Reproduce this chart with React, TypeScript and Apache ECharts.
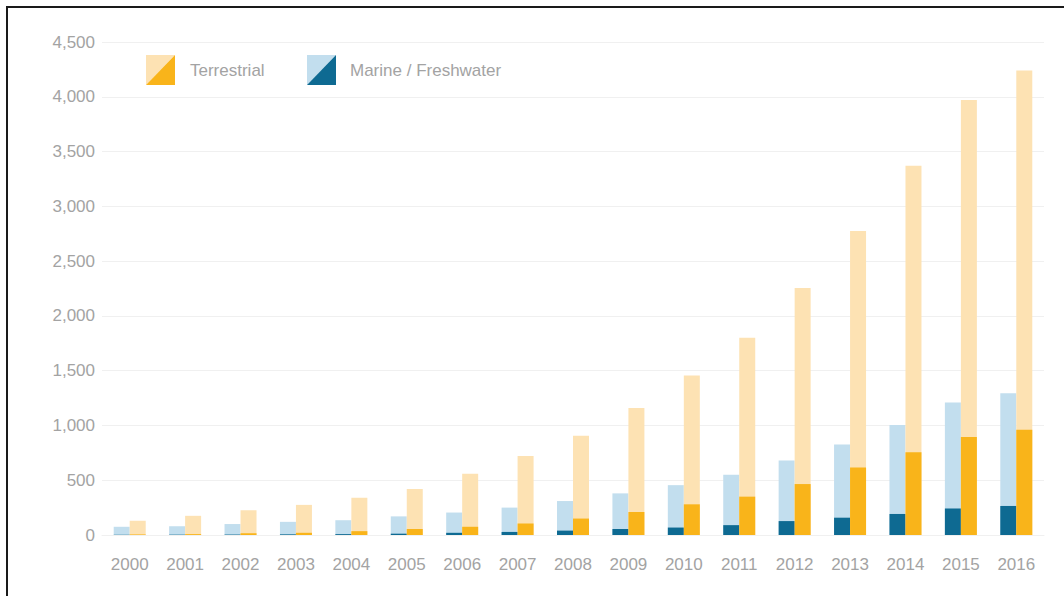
import React, { useEffect, useRef } from "react";
import * as echarts from "echarts";

const years = ["2000","2001","2002","2003","2004","2005","2006","2007","2008","2009","2010","2011","2012","2013","2014","2015","2016"];
const marineTotal = [75, 80, 100, 120, 135, 170, 205, 250, 310, 380, 455, 550, 680, 825, 1005, 1210, 1295];
const terrestrialTotal = [130, 175, 225, 275, 340, 420, 560, 720, 905, 1160, 1455, 1800, 2255, 2775, 3370, 3970, 4240];
const marinePart = [2, 3, 4, 6, 8, 12, 20, 28, 40, 55, 68, 90, 127, 158, 192, 242, 265];
const terrestrialPart = [5, 8, 15, 20, 35, 55, 75, 105, 150, 210, 280, 350, 465, 615, 755, 895, 960];
const yTicks = [0, 500, 1000, 1500, 2000, 2500, 3000, 3500, 4000, 4500];

const C = {
  lightOrange: "#fde2b3",
  orange: "#f9b41a",
  lightBlue: "#c2deee",
  darkBlue: "#0e6a92",
  text: "#a3a3a3",
  grid: "#f0f0f0",
};
const FONT = "Liberation Sans, Arial, sans-serif";

export default function App() {
  const ref = useRef<HTMLDivElement>(null);
  useEffect(() => {
    if (!ref.current) return;
    const chart = echarts.init(ref.current, undefined, { renderer: "svg" });
    const icon = (x: number, light: string, dark: string) => ({
      type: "group",
      x,
      y: 55,
      children: [
        { type: "polygon", shape: { points: [[0, 0], [29, 0], [0, 30]] }, style: { fill: light } },
        { type: "polygon", shape: { points: [[29, 0], [29, 30], [0, 30]] }, style: { fill: dark } },
      ],
    });
    const legendText = (x: number, text: string) => ({
      type: "text",
      x,
      y: 70,
      style: { text, fill: C.text, font: `17px ${FONT}`, verticalAlign: "middle", textAlign: "left" },
    });
    const barBase = { type: "bar", barWidth: 16, barGap: "0%", silent: true };
    chart.setOption({
      animation: false,
      backgroundColor: "#ffffff",
      grid: { left: 102, right: 20, top: 42, bottom: 61, containLabel: false },
      xAxis: [
        {
          type: "category",
          data: years,
          axisLine: { show: true, lineStyle: { color: C.grid } },
          axisTick: { show: false },
          axisLabel: { color: C.text, fontSize: 17, fontFamily: FONT, margin: 21 },
        },
        { type: "category", data: years, show: false },
      ],
      yAxis: {
        type: "value",
        min: yTicks[0],
        max: yTicks[yTicks.length - 1],
        interval: 500,
        axisLine: { show: false },
        axisTick: { show: false },
        splitLine: { lineStyle: { color: C.grid, width: 1 } },
        axisLabel: {
          color: C.text,
          fontSize: 17,
          fontFamily: FONT,
          margin: 7,
          formatter: (v: number) => v.toLocaleString("en-US"),
        },
      },
      series: [
        { ...barBase, name: "Marine / Freshwater", xAxisIndex: 0, data: marineTotal, itemStyle: { color: C.lightBlue } },
        { ...barBase, name: "Terrestrial", xAxisIndex: 0, data: terrestrialTotal, itemStyle: { color: C.lightOrange } },
        { ...barBase, name: "Marine part", xAxisIndex: 1, data: marinePart, itemStyle: { color: C.darkBlue }, z: 3 },
        { ...barBase, name: "Terrestrial part", xAxisIndex: 1, data: terrestrialPart, itemStyle: { color: C.orange }, z: 3 },
      ],
      graphic: [
        icon(146, C.lightOrange, C.orange),
        legendText(190, "Terrestrial"),
        icon(307, C.lightBlue, C.darkBlue),
        legendText(350, "Marine / Freshwater"),
        { type: "line", shape: { x1: 6, y1: 7, x2: 1064, y2: 7 }, style: { stroke: "#1a1a1a", lineWidth: 2 } },
        { type: "line", shape: { x1: 7, y1: 6, x2: 7, y2: 596 }, style: { stroke: "#1a1a1a", lineWidth: 2 } },
      ],
    });
    return () => chart.dispose();
  }, []);
  return (
    <div style={{ position: "fixed", left: 0, top: 0, width: 1064, height: 596, background: "#fff" }}>
      <div ref={ref} style={{ width: 1064, height: 596 }} />
    </div>
  );
}
